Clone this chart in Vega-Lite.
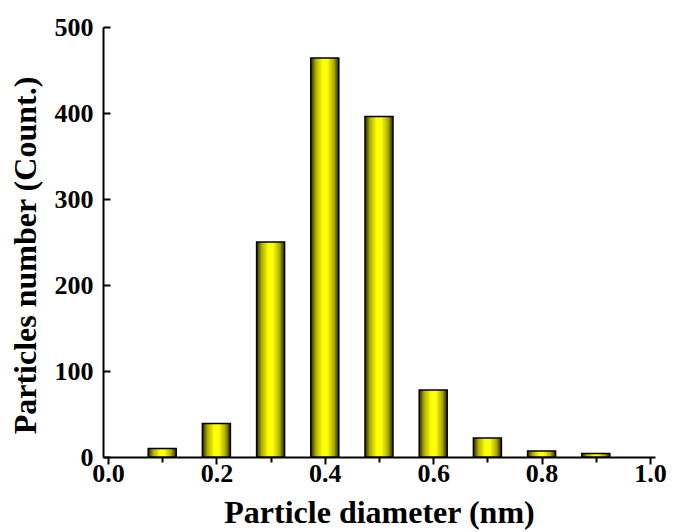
{
  "$schema": "https://vega.github.io/schema/vega-lite/v6.json",
  "width": 552,
  "height": 430,
  "autosize": {"type": "none"},
  "padding": {"left": 103, "top": 27, "right": 23, "bottom": 75},
  "background": "white",
  "config": {
    "view": {"stroke": null},
    "font": "Liberation Serif",
    "axis": {
      "grid": false,
      "domainColor": "black",
      "domainWidth": 2,
      "tickColor": "black",
      "tickWidth": 2,
      "tickSize": 7,
      "labelFont": "Liberation Serif",
      "labelFontWeight": "bold",
      "labelFontSize": 26,
      "labelColor": "black",
      "titleFont": "Liberation Serif",
      "titleFontWeight": "bold",
      "titleFontSize": 32,
      "titleColor": "black"
    }
  },
  "data": {
    "values": [
      {"d": 0.1, "count": 10},
      {"d": 0.2, "count": 39},
      {"d": 0.3, "count": 250},
      {"d": 0.4, "count": 464},
      {"d": 0.5, "count": 396},
      {"d": 0.6, "count": 78},
      {"d": 0.7, "count": 22},
      {"d": 0.8, "count": 7},
      {"d": 0.9, "count": 4}
    ]
  },
  "layer": [
    {
      "mark": {
        "type": "bar",
        "width": 28,
        "stroke": "black",
        "strokeWidth": 1.5,
        "fill": {
          "gradient": "linear",
          "x1": 0, "y1": 0, "x2": 1, "y2": 0,
          "stops": [
            {"offset": 0, "color": "#262600"},
            {"offset": 0.18, "color": "#adad00"},
            {"offset": 0.42, "color": "#ffff00"},
            {"offset": 0.58, "color": "#ffff10"},
            {"offset": 0.82, "color": "#adad00"},
            {"offset": 1, "color": "#262600"}
          ]
        }
      },
      "encoding": {
        "x": {
          "field": "d",
          "type": "quantitative",
          "scale": {"domain": [0, 1], "nice": false},
          "axis": {
            "values": [0, 0.2, 0.4, 0.6, 0.8, 1.0],
            "format": ".1f",
            "title": "Particle diameter (nm)",
            "labelPadding": -4,
            "titlePadding": 11,
            "labelFlush": false
          }
        },
        "y": {
          "field": "count",
          "type": "quantitative",
          "scale": {"domain": [0, 500], "nice": false},
          "axis": {
            "values": [0, 100, 200, 300, 400, 500],
            "title": "Particles number (Count.)",
            "titleY": 228,
            "tickSize": -7,
            "labelPadding": 17,
            "titlePadding": 12,
            "labelFlush": false
          }
        }
      }
    },
    {
      "mark": {"type": "point", "opacity": 0},
      "encoding": {
        "x": {
          "field": "d",
          "type": "quantitative",
          "axis": {
            "orient": "bottom",
            "values": [0.1, 0.3, 0.5, 0.7, 0.9],
            "labels": false,
            "domain": false,
            "tickSize": 5,
            "title": null
          }
        }
      }
    }
  ],
  "resolve": {"axis": {"x": "independent"}}
}
